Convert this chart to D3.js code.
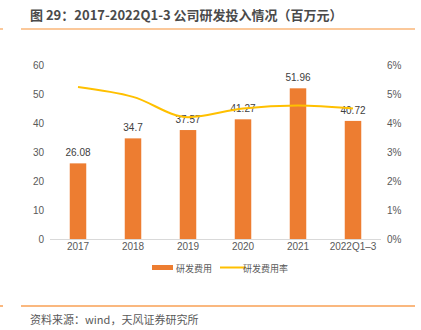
<!DOCTYPE html>
<html><head><meta charset="utf-8">
<script src="https://cdn.jsdelivr.net/npm/d3@7"></script>
<style>body{margin:0;background:#fff}svg{display:block}</style>
</head><body>
<svg id="c" width="421" height="330"></svg>
<script>
const categories = ["2017","2018","2019","2020","2021","2022Q1–3"];
const rdExpense = [26.08, 34.7, 37.57, 41.27, 51.96, 40.72];
const rdRate = [0.0524, 0.049, 0.042, 0.045, 0.046, 0.045];
const leftTicks = [0,10,20,30,40,50,60];
const rightTicks = [0,0.01,0.02,0.03,0.04,0.05,0.06];
const titleText = "图 29：2017-2022Q1-3 公司研发投入情况（百万元）";
const sourceText = "资料来源：wind，天风证券研究所";
const legendLabels = ["研发费用","研发费用率"];

const font = "'Liberation Sans', Arial, 'Noto Sans CJK SC', sans-serif";
const cjk = "'Noto Sans CJK SC', sans-serif";
const svg = d3.select("#c").style("font-family", font);

const x = d3.scaleBand().domain(categories).range([50.5, 380.5]).paddingInner(0.7).paddingOuter(0.35);
const y = d3.scaleLinear().domain([0,60]).range([239, 65]);
const y2 = d3.scaleLinear().domain([0,0.06]).range([239, 65]);

// title
svg.append("text").attr("x", 30).attr("y", 20).text(titleText)
  .attr("font-size", 13).attr("font-weight", "bold").attr("fill", "#4a4a4a")
  .style("font-family", cjk);
svg.append("line").attr("x1", 21).attr("x2", 415).attr("y1", 29).attr("y2", 29)
  .attr("stroke", "#FBC89A").attr("stroke-width", 2);
svg.append("line").attr("x1", 0).attr("x2", 3).attr("y1", 29).attr("y2", 29)
  .attr("stroke", "#FBC89A").attr("stroke-width", 2);

// left axis
const gl = svg.append("g").attr("transform", "translate(44,0)")
  .call(d3.axisLeft(y).tickValues(leftTicks).tickSize(0).tickPadding(0));
gl.select(".domain").remove();
gl.selectAll("text").attr("font-size", 10).attr("fill", "#595959").style("font-family", font);

// right axis
const gr = svg.append("g").attr("transform", "translate(387,0)")
  .call(d3.axisRight(y2).tickValues(rightTicks).tickFormat(d3.format(".0%")).tickSize(0).tickPadding(0));
gr.select(".domain").remove();
gr.selectAll("text").attr("font-size", 10).attr("fill", "#595959").style("font-family", font);

// baseline
svg.append("line").attr("x1", 50).attr("x2", 381).attr("y1", 239.5).attr("y2", 239.5)
  .attr("stroke", "#D9D9D9").attr("stroke-width", 1);

// x axis labels
const gx = svg.append("g").attr("transform", "translate(0,243)")
  .call(d3.axisBottom(x).tickSize(0).tickPadding(0));
gx.select(".domain").remove();
gx.selectAll("text").attr("font-size", 10).attr("fill", "#595959").attr("dy", "0.71em").style("font-family", font);

// bars
svg.append("g").selectAll("rect").data(rdExpense).join("rect")
  .attr("x", (d,i) => x(categories[i]))
  .attr("width", x.bandwidth())
  .attr("y", d => y(d))
  .attr("height", d => y(0) - y(d))
  .attr("fill", "#ED7D31");

// bar labels
svg.append("g").selectAll("text").data(rdExpense).join("text")
  .attr("x", (d,i) => x(categories[i]) + x.bandwidth()/2)
  .attr("y", d => y(d) - 7)
  .attr("text-anchor", "middle")
  .attr("font-size", 10).attr("fill", "#404040")
  .text(d => d);

// line
const line = d3.line()
  .x((d,i) => x(categories[i]) + x.bandwidth()/2)
  .y(d => y2(d))
  .curve(d3.curveMonotoneX);
svg.append("path").datum(rdRate).attr("d", line)
  .attr("fill", "none").attr("stroke", "#FFC000").attr("stroke-width", 2);

// legend
const lg = svg.append("g");
lg.append("rect").attr("x", 152).attr("y", 265).attr("width", 21).attr("height", 5).attr("fill", "#ED7D31");
lg.append("text").attr("x", 176).attr("y", 271.5).text(legendLabels[0])
  .attr("font-size", 9).attr("fill", "#595959").style("font-family", cjk);
lg.append("line").attr("x1", 220).attr("x2", 246).attr("y1", 267.5).attr("y2", 267.5)
  .attr("stroke", "#FFC000").attr("stroke-width", 2);
lg.append("text").attr("x", 243).attr("y", 271.5).text(legendLabels[1])
  .attr("font-size", 9).attr("fill", "#595959").style("font-family", cjk);

// footer
svg.append("line").attr("x1", 21).attr("x2", 415).attr("y1", 306).attr("y2", 306)
  .attr("stroke", "#F8A055").attr("stroke-width", 1.5);
svg.append("line").attr("x1", 0).attr("x2", 3).attr("y1", 306).attr("y2", 306)
  .attr("stroke", "#F8A055").attr("stroke-width", 1.5);
svg.append("text").attr("x", 30).attr("y", 324).text(sourceText)
  .attr("font-size", 11).attr("fill", "#595959").style("font-family", cjk);
</script>
</body></html>
